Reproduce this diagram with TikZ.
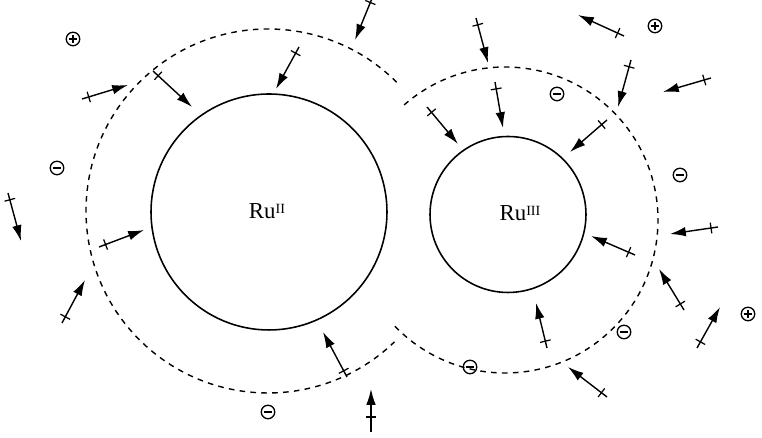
\documentclass[tikz,border=0pt]{standalone}
\usepackage{fontspec}
\setmainfont{Liberation Serif}
\usetikzlibrary{arrows.meta,decorations.markings}

\tikzset{
  ion/.style={draw, circle, line width=0.9pt, inner sep=0pt},
  shell/.style={line width=0.8pt, dash pattern=on 3.2pt off 3pt},
  ionlabel/.style={inner sep=0pt, font=\fontsize{13}{15}\selectfont},
  charge/.style={draw, circle, line width=0.75pt, inner sep=0pt, minimum size=0.27cm},
  poscharge/.style={charge, path picture={
      \draw[line width=0.75pt] ([xshift=1.4pt]path picture bounding box.west) -- ([xshift=-1.4pt]path picture bounding box.east);
      \draw[line width=0.75pt] ([yshift=-1.4pt]path picture bounding box.north) -- ([yshift=1.4pt]path picture bounding box.south);}},
  negcharge/.style={charge, path picture={
      \draw[line width=0.75pt] ([xshift=1.4pt]path picture bounding box.west) -- ([xshift=-1.4pt]path picture bounding box.east);}},
  dipole/.style={line width=0.8pt, -{Latex[length=9pt,width=5.4pt]},
    postaction={decorate, decoration={markings,
      mark=at position #1 with {\draw[-, line width=0.7pt] (0,-3.1pt) -- (0,3.1pt);}}}},
  dipole/.default=4pt
}

\begin{document}
\begin{tikzpicture}[x=0.02cm, y=0.02cm]
  \useasboundingbox (0,0) rectangle (762,438);

  % the two ions
  \node[ion, minimum size=4.72cm] (ru2) at (269,226) {};
  \node[ion, minimum size=3.12cm] (ru3) at (508,223.5) {};
  \node[ionlabel] (ru2txt) at (267,227) {Ru\raisebox{3pt}{\fontsize{8}{8}\selectfont II}};
  \node[ionlabel] (ru3txt) at (520,225) {Ru\raisebox{3pt}{\fontsize{8}{8}\selectfont III}};

  % solvation shells, open where they meet
  \coordinate (c2) at (268,227);
  \coordinate (c3) at (505,218);
  \draw[shell] (c2) ++(45:182) arc[start angle=45, end angle=314, radius=182];
  \draw[shell] (c3) ++(-136:153) arc[start angle=-136, end angle=133, radius=153];

  % solvent dipoles: tail (cross) -> head (arrow)
  \foreach \n/\tx/\ty/\hx/\hy/\tk in {
      1/82/339/128/353/4pt,
      2/153/367/192/331/4pt,
      3/8/245/21/197/4pt,
      4/373/442/355/398/4pt,
      5/299/391/276/349/4pt,
      6/476/420/488/375/4pt,
      7/495/356/503/310/4pt,
      8/427/331/458/294/4pt,
      9/624/402/578/423/4pt,
      10/631/378/618/331/4pt,
      11/711/360/663/346/4pt,
      12/607/318/570/286/4pt,
      13/99/191/144/208/4pt,
      14/62/115/85/158/4pt,
      15/347/61/323/106/4pt,
      16/371/6/371/49/8.5pt,
      17/635/183/591/202/4pt,
      18/718/211/670/204/4pt,
      19/684/128/659/169/4pt,
      20/697/90/720/131/4pt,
      21/547/90/536/135/4pt,
      22/607/41/568/71/4pt} {
    \coordinate (t\n) at (\tx,\ty);
    \coordinate (h\n) at (\hx,\hy);
    \draw[dipole=\tk] (t\n) -- (h\n);
  }

  % free charges
  \node[poscharge] (p1) at (73,399) {};
  \node[poscharge] (p2) at (655,412) {};
  \node[poscharge] (p3) at (748,124) {};
  \node[negcharge] (m1) at (57,270) {};
  \node[negcharge] (m2) at (557,344) {};
  \node[negcharge] (m3) at (680,263) {};
  \node[negcharge] (m4) at (268,26) {};
  \node[negcharge] (m5) at (470,71) {};
  \node[negcharge] (m6) at (624,106) {};
\end{tikzpicture}
\end{document}
